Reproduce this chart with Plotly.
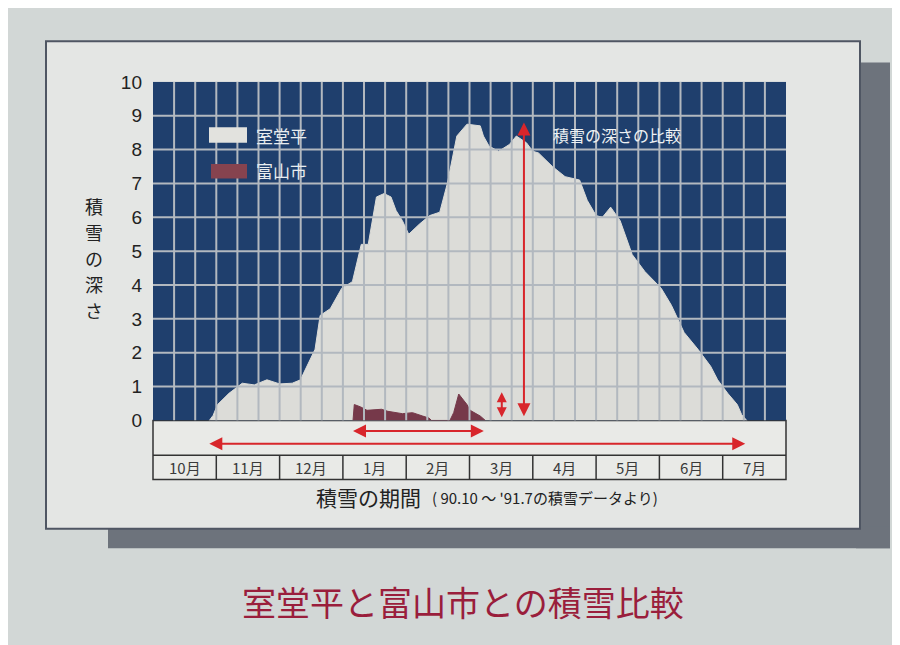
import plotly.graph_objects as go

MONTH_LABELS = ["10月", "11月", "12月", "1月", "2月", "3月", "4月", "5月", "6月", "7月"]
DEPTH_TICKS = list(range(0, 11))

# months counted from 1 Oct 1990, snow depth in metres
MURODO_MONTH = [
    0.89, 0.95, 1.02, 1.2, 1.41, 1.6, 1.8, 2.0, 2.2, 2.33, 2.38, 2.56, 2.64,
    2.8, 2.98, 3.15, 3.29, 3.4, 3.53, 3.65, 3.76, 3.84, 3.94, 4.04, 4.21,
    4.37, 4.53, 4.65, 4.8, 4.96, 5.17, 5.22, 5.31, 5.46, 5.63, 5.74, 5.9,
    6.0, 6.09, 6.31, 6.51, 6.74, 6.86, 7.0, 7.1, 7.23, 7.38, 7.57, 7.77,
    8.03, 8.19, 8.39, 8.61, 8.81, 8.92, 9.08, 9.23, 9.3, 9.38,
]
MURODO_DEPTH = [
    0.0, 0.15, 0.47, 0.8, 1.1, 1.05, 1.2, 1.08, 1.1, 1.2, 1.4, 2.1, 3.1,
    3.3, 3.9, 4.1, 5.2, 5.2, 6.6, 6.7, 6.6, 6.2, 5.9, 5.5, 5.8,
    6.05, 6.15, 7.0, 8.4, 8.75, 8.7, 8.4, 8.1, 7.95, 8.15, 8.4, 8.2,
    7.95, 7.9, 7.5, 7.2, 7.1, 6.5, 6.05, 6.0, 6.3, 5.9, 4.9, 4.4,
    3.9, 3.4, 2.6, 2.1, 1.6, 1.2, 0.8, 0.47, 0.17, 0.0,
]

TOYAMA_MONTH = [
    3.16, 3.18, 3.28, 3.38, 3.61, 3.71, 3.94, 4.1, 4.26, 4.36, 4.4,
    4.69, 4.75, 4.83, 4.96, 5.01, 5.17, 5.25,
]
TOYAMA_DEPTH = [
    0.0, 0.47, 0.4, 0.3, 0.33, 0.27, 0.2, 0.23, 0.13, 0.07, 0.0,
    0.0, 0.23, 0.78, 0.47, 0.3, 0.13, 0.0,
]

Y_TITLE = "積雪の深さ"

W, H = 900, 645
PLOT_L, PLOT_R, PLOT_T, PLOT_B = 145, 778, 66, 416
TABLE_MID, TABLE_B = 452, 477

NAVY = "#1f3f6d"
GRID = "#b2b8bf"
SNOW = "#dcdcd8"
CITY = "#76394a"
ARROW = "#d8262b"
FONT = "Noto Sans CJK JP, Noto Sans, sans-serif"


def fx(px):
    return px / W


def fy(py):
    return 1 - py / H


def board_shapes():
    shapes = [
        # shadow + panel of the sign board
        dict(type="rect", xref="paper", yref="paper", x0=fx(848), x1=fx(882),
             y0=fy(548), y1=fy(46), fillcolor="#6d737c", line=dict(width=0), layer="below"),
        dict(type="rect", xref="paper", yref="paper", x0=fx(100), x1=fx(882),
             y0=fy(548), y1=fy(526), fillcolor="#6d737c", line=dict(width=0), layer="below"),
        dict(type="rect", xref="paper", yref="paper", x0=fx(38), x1=fx(852),
             y0=fy(528), y1=fy(24), fillcolor="#e4e6e4",
             line=dict(color="#4f5663", width=2), layer="below"),
        # navy plotting field
        dict(type="rect", xref="x", yref="y", x0=0, x1=10, y0=0, y1=10,
             fillcolor=NAVY, line=dict(width=0), layer="below"),
    ]
    for i in range(1, 30):
        shapes.append(dict(type="line", xref="x", yref="y", x0=i / 3, x1=i / 3, y0=0, y1=10,
                           line=dict(color=GRID, width=2), layer="above"))
    for v in DEPTH_TICKS[1:-1]:
        shapes.append(dict(type="line", xref="x", yref="y", x0=0, x1=10, y0=v, y1=v,
                           line=dict(color=GRID, width=2), layer="above"))

    # month table under the chart
    shapes.append(dict(type="rect", xref="paper", yref="paper", x0=fx(PLOT_L), x1=fx(PLOT_R),
                       y0=fy(TABLE_B), y1=fy(PLOT_B), fillcolor="#e9eae7",
                       line=dict(color="#333333", width=1.5), layer="below"))
    shapes.append(dict(type="line", xref="paper", yref="paper", x0=fx(PLOT_L), x1=fx(PLOT_R),
                       y0=fy(TABLE_MID), y1=fy(TABLE_MID), line=dict(color="#333333", width=1.5)))
    step = (PLOT_R - PLOT_L) / len(MONTH_LABELS)
    for i in range(1, len(MONTH_LABELS)):
        xp = fx(PLOT_L + i * step)
        shapes.append(dict(type="line", xref="paper", yref="paper", x0=xp, x1=xp,
                           y0=fy(TABLE_B), y1=fy(TABLE_MID), line=dict(color="#333333", width=1.5)))

    # legend swatches
    shapes.append(dict(type="rect", xref="paper", yref="paper", x0=fx(201), x1=fx(239),
                       y0=fy(129), y1=fy(113), fillcolor="#e2e2de", line=dict(width=0)))
    shapes.append(dict(type="rect", xref="paper", yref="paper", x0=fx(203), x1=fx(239),
                       y0=fy(166), y1=fy(151), fillcolor="#86434f", line=dict(width=0)))
    return shapes


def label(px, py, text, size, color="#222222", xanchor="center"):
    return dict(x=fx(px), y=fy(py), xref="paper", yref="paper", text=text,
                xanchor=xanchor, yanchor="middle", showarrow=False,
                font=dict(size=size, color=color))


def arrow(x, y, ax, ay, yref="y", size=1.3):
    return dict(x=x, y=y, ax=ax, ay=ay, xref="x", yref=yref, axref="x", ayref=yref,
                text="", showarrow=True, arrowhead=2, arrowside="end+start",
                arrowsize=size, arrowwidth=2, arrowcolor=ARROW)


def texts():
    notes = []
    step = (PLOT_R - PLOT_L) / len(MONTH_LABELS)
    for i, lab in enumerate(MONTH_LABELS):
        notes.append(label(PLOT_L + (i + 0.5) * step, 465, lab, 15, "#3a3a3a"))

    # vertical y title, one character per row
    for i, ch in enumerate(Y_TITLE):
        notes.append(label(86, 194 + i * 27, ch, 18))

    notes += [
        label(415, 495, "積雪の期間", 21, xanchor="right"),
        label(422, 496, "( 90.10 〜 '91.7の積雪データより)", 15, xanchor="left"),
        label(455, 603, "室堂平と富山市との積雪比較", 34, "#9a1e3c"),
        label(246, 121, "室堂平", 17, "#e8ecef", xanchor="left"),
        label(246, 158, "富山市", 17, "#e8ecef", xanchor="left"),
        dict(x=6.29, y=8.42, xref="x", yref="y", xanchor="left", yanchor="middle",
             text="積雪の深さの比較", showarrow=False, font=dict(size=16, color="#eef1f3")),
    ]

    # depth comparison and snow period arrows
    notes.append(arrow(5.86, max(MURODO_DEPTH) + 0.05, 5.86, 0.08))
    notes.append(arrow(5.51, max(TOYAMA_DEPTH) + 0.05, 5.51, 0.05, size=1.0))
    notes.append(arrow(min(TOYAMA_MONTH), -0.031, max(TOYAMA_MONTH), -0.031, yref="y domain"))
    notes.append(arrow(min(MURODO_MONTH), -0.069, max(MURODO_MONTH), -0.069, yref="y domain"))
    return notes


def main() -> None:
    fig = go.Figure()

    fig.add_trace(go.Scatter(
        x=MURODO_MONTH, y=MURODO_DEPTH, name="室堂平", mode="lines",
        fill="tozeroy", fillcolor=SNOW, line=dict(color=SNOW, width=1),
    ))
    fig.add_trace(go.Scatter(
        x=TOYAMA_MONTH, y=TOYAMA_DEPTH, name="富山市", mode="lines",
        fill="tozeroy", fillcolor=CITY, line=dict(color=CITY, width=1),
    ))

    fig.update_layout(
        width=W,
        height=H,
        margin=dict(l=0, r=0, t=0, b=0),
        paper_bgcolor="#d2d7d6",
        plot_bgcolor="rgba(0,0,0,0)",
        showlegend=False,
        font=dict(family=FONT),
        shapes=board_shapes(),
        annotations=texts(),
        xaxis=dict(
            domain=[fx(PLOT_L), fx(PLOT_R)], range=[0, 10],
            showgrid=False, zeroline=False, showticklabels=False,
        ),
        yaxis=dict(
            domain=[fy(PLOT_B), fy(PLOT_T)], range=[0, 10],
            tickvals=DEPTH_TICKS, showgrid=False, zeroline=False,
            ticklabelstandoff=10, tickfont=dict(size=19, color="#222222",
                                                family="Liberation Sans, " + FONT),
        ),
    )

    fig.write_html("out.html")


if __name__ == "__main__":
    main()
